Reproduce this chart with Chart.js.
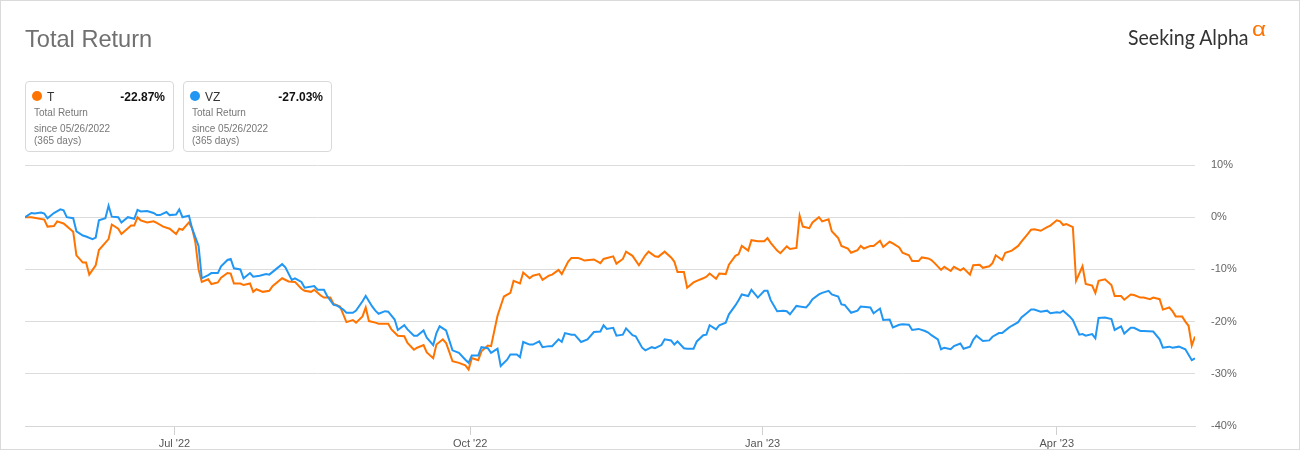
<!DOCTYPE html>
<html>
<head>
<meta charset="utf-8">
<title>Total Return</title>
<script src="https://cdn.jsdelivr.net/npm/chart.js@4"></script>
<style>
  html, body { margin: 0; padding: 0; background: #fff; }
  #wrap { position: relative; width: 1300px; height: 450px; overflow: hidden; font-family: "Liberation Sans", Arial, sans-serif; }
  #chart { position: absolute; left: 0; top: 0; }
  #frame { position: absolute; left: 0; top: 0; width: 1300px; height: 450px; box-sizing: border-box; border: 1px solid #dadada; pointer-events: none; }
  .title { position: absolute; left: 25px; top: 28px; font-size: 23.6px; line-height: 23px; color: #707070; white-space: nowrap; }
  .logo { position: absolute; left: 1128px; top: 26px; font-family: Lato, "Liberation Sans", sans-serif; font-size: 21px; line-height: 21px; color: #333; white-space: nowrap; transform: scaleX(0.93); transform-origin: left top; }
  .alpha { position: absolute; left: 1252px; top: 18px; font-size: 21px; line-height: 21px; color: #ff7300; transform: scaleX(1.15); transform-origin: left top; }
  .card { position: absolute; top: 81px; width: 149px; height: 71px; box-sizing: border-box; border: 1px solid #d9d9d9; border-radius: 4px; }
  .card .dot { position: absolute; left: 6px; top: 9px; width: 10px; height: 10px; border-radius: 50%; }
  .card .sym { position: absolute; left: 21px; top: 9px; font-size: 12px; line-height: 12px; color: #333; }
  .card .val { position: absolute; right: 8px; top: 9px; font-size: 12px; line-height: 12px; color: #111; font-weight: bold; }
  .card .sub { position: absolute; left: 8px; font-size: 10px; line-height: 10px; color: #777; white-space: nowrap; }
</style>
</head>
<body>
<div id="wrap">
  <canvas id="chart" width="1300" height="450"></canvas>
  <div class="title">Total Return</div>
  <div class="logo">Seeking Alpha</div>
  <div class="alpha">α</div>
  <div id="cards"></div>
  <div id="frame"></div>
</div>
<script>
// Day offsets (from the first plotted day) and total return in %
const tDays = [0,2,6,7,9,10,12,15,16,18,19,20,22,23,26,27,29,30,33,34,35,36,38,40,41,43,45,47,48,49,51,52,53,54,55,57,58,60,61,63,64,65,67,68,70,71,72,74,76,77,80,82,84,86,87,89,90,92,93,95,96,98,100,102,103,105,106,107,109,110,113,114,116,118,119,121,122,124,125,127,128,130,131,132,133,135,137,138,139,141,142,144,145,147,148,149,151,152,154,155,157,158,160,161,163,164,166,167,169,170,172,173,174,177,179,180,183,184,186,187,189,191,193,194,196,197,199,201,202,203,205,206,208,209,211,212,213,215,216,218,219,221,222,223,225,226,228,230,231,232,234,235,237,238,240,241,242,244,245,247,248,250,251,253,254,256,257,259,260,261,263,264,266,267,269,270,272,273,275,276,278,279,281,282,283,285,286,288,289,291,292,294,295,297,298,300,301,302,304,305,307,309,310,312,313,314,316,318,319,321,322,323,324,326,327,329,330,332,333,334,336,338,339,341,342,344,345,347,348,350,351,353,354,356,357,358,360,361,362,363,364];
const tValues = [0,0,-0.45,-1.8,-1.7,-0.8,-1.2,-2.8,-7.3,-8.7,-8.7,-11.0,-9.2,-6.3,-4.2,-1.4,-2.2,-3.2,-1.6,-1.6,0,-0.6,-1.0,-0.8,-1.1,-1.8,-2.2,-3.2,-2.2,-2.4,-1.0,-2.1,-4.8,-10.0,-12.4,-11.9,-12.8,-12.5,-11.6,-10.7,-10.8,-12.7,-12.7,-13.0,-12.7,-14.3,-13.8,-14.3,-14.1,-13.2,-11.7,-12.3,-12.4,-13.7,-14.1,-14.3,-13.9,-15.0,-15.4,-15.4,-16.6,-17.1,-20.1,-19.7,-20.2,-19.0,-17.3,-19.9,-20.2,-20.4,-20.4,-21.5,-22.7,-22.8,-24.1,-25.4,-25.0,-24.5,-25.9,-27.0,-24.4,-23.4,-24.1,-25.8,-27.6,-27.9,-28.4,-29.2,-27.0,-27.4,-25.7,-24.6,-24.7,-18.9,-17.0,-15.2,-14.5,-12.2,-12.7,-10.6,-11.7,-11.2,-10.9,-12.0,-11.2,-11.0,-10.1,-10.9,-8.5,-7.8,-7.8,-8.0,-8.3,-8.1,-8.8,-8.0,-7.5,-8.9,-8.0,-6.6,-7.4,-9.2,-7.3,-6.6,-7.5,-7.6,-6.6,-7.7,-8.5,-10.5,-10.5,-13.5,-12.5,-12.2,-11.7,-11.4,-10.8,-11.8,-10.8,-10.9,-9.1,-7.4,-7.1,-5.5,-6.4,-4.4,-4.6,-4.6,-4.0,-4.9,-6.4,-6.9,-5.6,-6.1,-5.9,0.3,-1.8,-2.1,-1.0,0,-0.8,-0.4,-2.7,-4.0,-5.5,-6.0,-6.8,-6.3,-5.5,-6.0,-5.5,-5.5,-4.5,-5.7,-4.7,-5.0,-5.8,-6.8,-7.3,-8.4,-8.4,-7.7,-7.9,-8.2,-8.8,-10.1,-9.5,-10.3,-9.5,-10.2,-9.8,-11.0,-9.2,-9.1,-9.7,-9.4,-8.8,-7.3,-8.2,-6.8,-6.4,-5.5,-4.7,-3.2,-2.4,-2.3,-2.6,-1.9,-1.6,-0.6,-0.8,-1.5,-1.3,-1.9,-12.2,-9.4,-12.8,-13.1,-14.5,-12.2,-11.9,-13.0,-15.1,-15.1,-15.8,-14.8,-14.9,-15.4,-15.4,-15.7,-15.4,-15.7,-17.7,-17.3,-18.0,-19.0,-19.0,-20.0,-20.8,-24.6,-22.87];

const vzDays = [0,2,3,5,6,7,9,11,12,13,15,16,18,19,21,22,23,25,26,27,29,30,32,34,35,36,38,40,41,42,44,45,47,48,49,51,52,54,55,57,58,60,61,63,64,65,67,68,70,71,73,75,76,78,80,81,83,84,86,87,90,91,93,94,96,97,99,100,102,103,105,106,108,109,110,112,113,115,116,118,119,121,122,124,125,127,128,129,131,132,133,135,137,138,139,141,142,144,145,147,148,150,151,153,154,155,157,158,160,161,163,164,166,167,168,170,171,173,175,177,179,180,181,183,184,186,187,189,190,192,193,195,196,198,199,201,202,203,205,206,208,209,211,212,213,215,216,218,219,221,222,223,225,226,228,230,231,232,234,236,237,238,240,241,243,244,245,247,248,250,251,253,254,255,257,259,260,263,264,266,267,269,270,272,273,275,276,278,280,281,282,284,285,286,288,289,291,292,294,295,296,298,300,301,303,304,306,307,309,310,312,313,314,316,318,319,321,322,323,325,326,328,329,330,332,333,334,336,338,339,341,342,344,345,347,348,351,353,354,356,357,359,361,363,364];
const vzValues = [0,0.8,0.7,0.9,0.7,-0.2,0.8,1.5,1.3,0,-0.2,-2.7,-3.5,-3.7,-4.2,-3.9,-0.6,-0.2,2.2,0.1,0,-1.0,0,-0.3,1.4,1.1,1.2,0.8,0.4,0.4,1.0,0.4,0.5,1.5,0,0.3,-2.2,-5.5,-11.7,-11.1,-10.7,-10.7,-9.4,-8.2,-8.0,-9.8,-10.0,-11.7,-10.7,-11.4,-11.2,-10.9,-11.0,-10.0,-9.0,-9.6,-12.0,-11.7,-12.4,-13.5,-13.2,-13.9,-13.9,-15.1,-16.8,-16.9,-17.7,-18.3,-18.3,-17.9,-16.1,-15.1,-17.1,-17.9,-18.5,-18.0,-18.1,-19.6,-21.6,-20.7,-21.5,-22.7,-22.7,-21.7,-23.1,-24.5,-22.2,-20.9,-21.7,-23.6,-25.5,-26.0,-27.3,-27.9,-26.5,-26.5,-24.9,-25.1,-26.0,-25.2,-28.5,-27.3,-26.3,-26.3,-26.8,-23.9,-24.4,-24.4,-23.8,-24.9,-24.7,-24.7,-23.4,-23.9,-22.2,-22.5,-22.5,-23.9,-23.4,-22.0,-21.9,-20.7,-21.4,-21.2,-22.7,-22.5,-21.3,-22.6,-22.8,-25.0,-25.5,-24.9,-25.1,-24.5,-23.4,-23.6,-24.4,-23.8,-25.1,-25.2,-25.2,-23.8,-22.6,-22.5,-20.7,-21.5,-20.7,-20.2,-18.6,-16.9,-15.9,-14.8,-15.1,-13.9,-15.4,-14.1,-14.1,-15.9,-18.0,-17.9,-18.0,-18.6,-17.0,-17.1,-17.3,-16.6,-15.7,-14.8,-14.5,-14.1,-14.8,-15.2,-16.7,-16.8,-18.3,-17.9,-17.1,-17.3,-18.4,-17.5,-19.7,-19.6,-21.1,-20.6,-20.5,-20.6,-21.6,-21.4,-21.8,-22.1,-22.6,-23.4,-25.3,-25.0,-25.3,-24.7,-24.2,-25.2,-24.8,-23.5,-22.7,-23.7,-23.6,-22.9,-22.2,-22.2,-21.2,-20.8,-20.1,-19.2,-18.2,-17.7,-17.7,-18.1,-17.9,-18.4,-18.2,-18.3,-17.9,-19.0,-19.7,-22.5,-22.4,-22.7,-22.4,-23.2,-19.3,-19.2,-19.5,-21.6,-20.9,-22.3,-21.2,-21.2,-21.8,-21.8,-21.9,-23.4,-25.0,-24.8,-25.0,-24.8,-25.3,-27.4,-27.03];

const xTickDays = [46.5, 138.5, 229.5, 321];
const xTickLabels = ["Jul '22", "Oct '22", "Jan '23", "Apr '23"];
const yTicks = [10, 0, -10, -20, -30, -40];

const seriesNames = ['T', 'VZ'];
const seriesColors = ['#ff7300', '#2196f3'];
const seriesReturns = ['-22.87%', '-27.03%'];
const sinceText = 'since 05/26/2022';
const daysText = '(365 days)';

// legend cards above the plot
function buildCards() {
  const holder = document.getElementById('cards');
  seriesNames.forEach((name, i) => {
    const card = document.createElement('div');
    card.className = 'card';
    card.style.left = (25 + i * 158) + 'px';
    card.innerHTML = `
      <div class="dot" style="background:${seriesColors[i]}"></div>
      <div class="sym">${name}</div>
      <div class="val">${seriesReturns[i]}</div>
      <div class="sub" style="top:26px">Total Return</div>
      <div class="sub" style="top:42px">${sinceText}</div>
      <div class="sub" style="top:54px">${daysText}</div>
    `;
    holder.appendChild(card);
  });
}

function toPoints(days, values) {
  return days.map((d, i) => ({ x: d, y: values[i] }));
}

function drawChart() {
  const ctx = document.getElementById('chart').getContext('2d');
  new Chart(ctx, {
    type: 'line',
    data: {
      datasets: [
        { label: 'T', data: toPoints(tDays, tValues), borderColor: seriesColors[0], borderWidth: 2, pointRadius: 0, tension: 0, fill: false, order: 1 },
        { label: 'VZ', data: toPoints(vzDays, vzValues), borderColor: seriesColors[1], borderWidth: 2, pointRadius: 0, tension: 0, fill: false, order: 0 }
      ]
    },
    options: {
      responsive: false,
      animation: false,
      devicePixelRatio: 1,
      layout: { padding: { left: 25, top: 165, right: 0, bottom: 0 } },
      plugins: { legend: { display: false }, tooltip: { enabled: false } },
      scales: {
        x: {
          type: 'linear',
          min: 0,
          max: 364,
          afterBuildTicks: (scale) => { scale.ticks = xTickDays.map(v => ({ value: v })); },
          afterFit: (scale) => { scale.height = 24; },
          grid: { drawOnChartArea: false, drawTicks: true, tickLength: 9, color: '#d0d0d0' },
          border: { color: '#d6d6d6' },
          ticks: {
            autoSkip: false, maxRotation: 0, padding: 2, color: '#555',
            font: { family: '"Liberation Sans", Arial, sans-serif', size: 11 },
            callback: (value) => xTickLabels[xTickDays.indexOf(value)]
          }
        },
        y: {
          position: 'right',
          min: -40,
          max: 10,
          afterBuildTicks: (scale) => { scale.ticks = yTicks.map(v => ({ value: v })); },
          afterFit: (scale) => { scale.width = 105; },
          grid: { color: '#dcdcdc', drawTicks: false },
          border: { display: false },
          ticks: {
            padding: 16, color: '#666',
            font: { family: '"Liberation Sans", Arial, sans-serif', size: 11 },
            callback: (value) => value + '%'
          }
        }
      }
    }
  });
}

buildCards();
drawChart();
</script>
</body>
</html>
